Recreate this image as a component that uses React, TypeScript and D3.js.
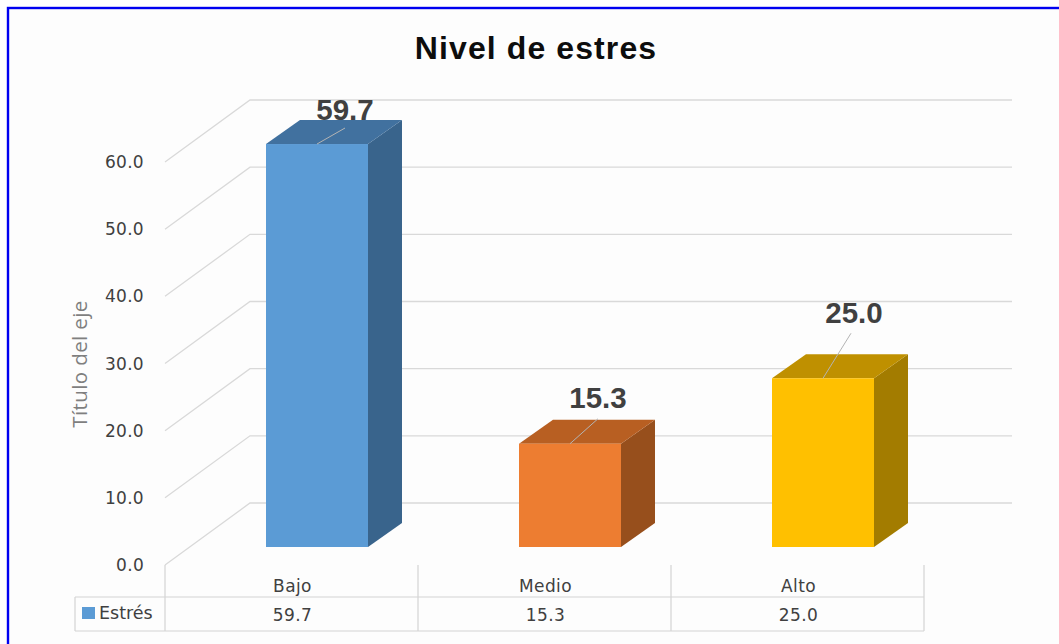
import React from "react";
import * as d3 from "d3";

const categories = ["Bajo", "Medio", "Alto"];
const values = [59.7, 15.3, 25.0];
const yTicks = [0, 10, 20, 30, 40, 50, 60];
const seriesName = "Estrés";
const frontColors = ["#5b9bd5", "#ed7d31", "#ffc000"];
const topColors = ["#41719f", "#b85f22", "#bf9000"];
const sideColors = ["#39648c", "#974f1c", "#a37c00"];
const labelLift = [24, 36, 55];
const labelShift = [28, 28, 31];
const leaderLift = [16, 25, 45];

const W = 1059, H = 644;
const sans = "'Liberation Sans', Arial, sans-serif";
const ui = "'DejaVu Sans', Verdana, sans-serif";

export default function App() {
  const y = d3.scaleLinear().domain([0, 60]).range([565, 162]);
  const barY = d3.scaleLinear().domain([0, 60]).range([547, 142]);
  const x = d3.scaleBand<string>().domain(categories).range([165, 924]);
  const barW = 102, wallDx = 85, wallDy = 62, depthX = 34, depthY = 24, barOffX = 25.5;
  const grid = "#d9d9d9";
  const textCol = "#404040";
  const tableCol = "#d4d4d4";
  return (
    <svg width={W} height={H} style={{ position: "absolute", left: 0, top: 0, background: "#fff" }}>
      <rect x={8} y={8} width={W} height={H} fill="#fdfdfd" stroke="#0000f0" strokeWidth={2.4} />
      <text x={536} y={59} textAnchor="middle" fontFamily={sans} fontWeight={700} fontSize={32} letterSpacing={1.1} fill="#0d0d0d">Nivel de estres</text>

      {yTicks.map((t) => (
        <g key={t}>
          <polyline
            points={`165,${y(t)} ${165 + wallDx},${y(t) - wallDy} 1012,${y(t) - wallDy}`}
            fill="none" stroke={grid} strokeWidth={1.3}
          />
          <text x={144} y={y(t) + 6} textAnchor="end" fontFamily={ui} fontSize={17} letterSpacing={0.3} fill={textCol}>{t.toFixed(1)}</text>
        </g>
      ))}

      <text transform="translate(87,364) rotate(-90)" textAnchor="middle" fontFamily="'Open Sans', sans-serif" fontSize={20.5} letterSpacing={0.4} fill="#7f7f7f">Título del eje</text>

      {categories.map((c, i) => {
        const cx = x(c)! + x.bandwidth() / 2 + barOffX;
        const l = cx - barW / 2, r = cx + barW / 2;
        const b = barY(0);
        const t = barY(values[i]);
        return (
          <g key={c}>
            <polygon points={`${r},${t} ${r + depthX},${t - depthY} ${r + depthX},${b - depthY} ${r},${b}`} fill={sideColors[i]} />
            <polygon points={`${l},${t} ${l + depthX},${t - depthY} ${r + depthX},${t - depthY} ${r},${t}`} fill={topColors[i]} />
            <rect x={l} y={t} width={barW} height={b - t} fill={frontColors[i]} />
            <line x1={cx} y1={t} x2={cx + 28} y2={t - leaderLift[i]} stroke="#b4b4b4" strokeWidth={1} />
            <text x={cx + labelShift[i]} y={t - labelLift[i]} textAnchor="middle" fontFamily={sans} fontWeight={700} fontSize={29.5} fill={textCol}>{values[i].toFixed(1)}</text>
          </g>
        );
      })}

      <g stroke={tableCol} strokeWidth={1.2} fill="none">
        <line x1={75} x2={924} y1={597} y2={597} />
        <line x1={75} x2={924} y1={631} y2={631} />
        <line x1={75} x2={75} y1={597} y2={631} />
        {[...categories.map((c) => x(c)!), 924].map((v) => <line key={v} x1={v} x2={v} y1={565} y2={631} />)}
      </g>
      <rect x={82} y={607} width={13} height={12} fill={frontColors[0]} />
      <text x={99} y={619} fontFamily={ui} fontSize={17.5} fill={textCol}>{seriesName}</text>
      {categories.map((c, i) => {
        const cx = x(c)! + x.bandwidth() / 2;
        return (
          <g key={c} fontFamily={ui} fontSize={17} letterSpacing={0.4} fill={textCol} textAnchor="middle">
            <text x={cx + 1} y={592}>{c}</text>
            <text x={cx + 1} y={621}>{values[i].toFixed(1)}</text>
          </g>
        );
      })}
    </svg>
  );
}
